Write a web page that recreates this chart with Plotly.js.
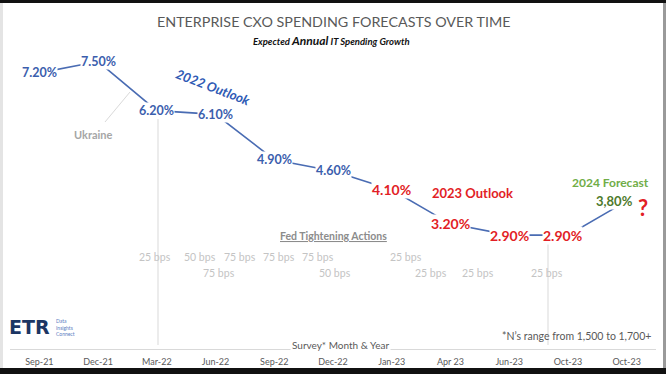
<!DOCTYPE html>
<html>
<head>
<meta charset="utf-8">
<script src="https://cdn.plot.ly/plotly-3.0.1.min.js"></script>
<style>
  html, body { margin: 0; padding: 0; background: #111; width: 666px; height: 374px; overflow: hidden; }
  #lstrip { position: absolute; left: 0; top: 3px; width: 3px; height: 365px; background: #e4e4e4; }
  #rstrip { position: absolute; left: 663px; top: 3px; width: 3px; height: 365px; background: #9a9a9a; }
  #chart { position: absolute; left: 3px; top: 3px; width: 660px; height: 365px; background: #fff; }
</style>
</head>
<body>
<div id="lstrip"></div>
<div id="rstrip"></div>
<div id="chart"></div>
<script>
// ---- data ----
const categories = ['Sep-21','Dec-21','Mar-22','Jun-22','Sep-22','Dec-22','Jan-23','Apr 23','Jun-23','Oct-23','Oct-23'];
const growth = [7.2, 7.5, 6.2, 6.1, 4.9, 4.6, 4.1, 3.2, 2.9, 2.9, 3.8];
const growthLabels = ['7.20%','7.50%','6.20%','6.10%','4.90%','4.60%','4.10%','3.20%','2.90%','2.90%','3,80%'];
const outlookYear = ['2022','2022','2022','2022','2022','2022','2023','2023','2023','2023','2024'];
const fedHikes = ['25 bps','50 bps','75 bps','75 bps','75 bps','75 bps','50 bps','25 bps','25 bps','25 bps','25 bps'];

// ---- layout helpers (page pixel -> paper coords) ----
const PL = 10, PR = 656, PT = 10, PB = 349;
const px = p => (p - PL) / (PR - PL);
const py = p => (PB - p) / (PB - PT);
const Y0 = -0.117, Y1 = 8.866;

const hikeX = [155, 200, 219, 240, 279, 318, 335, 406, 431, 478, 547];
const hikeRow = [1, 1, 2, 1, 1, 1, 2, 1, 2, 2, 2];

const colorFor = {'2022': '#3b5ead', '2023': '#e21e26', '2024': '#4e7a2c'};
const sizeFor = {'2022': 12.5, '2023': 14, '2024': 13};
const labelShift = [0,0,0,0,0,0,0,0,0,-5,-12];

const FONT = 'Lato, "Open Sans", sans-serif';

const annotations = [];
growth.forEach((v, i) => {
  annotations.push({
    x: i, y: v, xref: 'x', yref: 'y', text: '<b>' + growthLabels[i] + '</b>',
    xanchor: 'center', yanchor: 'middle',
    showarrow: false, bgcolor: 'rgba(255,255,255,1)', borderpad: 0, xshift: labelShift[i],
    font: {family: FONT, size: sizeFor[outlookYear[i]], color: colorFor[outlookYear[i]]}
  });
});

fedHikes.forEach((t, i) => {
  annotations.push({
    x: px(hikeX[i]), y: py(hikeRow[i] === 1 ? 257 : 273), xref: 'paper', yref: 'paper',
    xanchor: 'center', yanchor: 'middle',
    text: t, showarrow: false, font: {family: FONT, size: 10.5, color: '#c4c4c4'}
  });
});

const textAnn = (x, y, text, size, color, extra) => Object.assign({
  x: px(x), y: py(y), xref: 'paper', yref: 'paper', text: text, showarrow: false,
  xanchor: 'center', yanchor: 'middle',
  font: {family: FONT, size: size, color: color}
}, extra || {});

annotations.push(
  textAnn(333, 21, 'ENTERPRISE CXO SPENDING FORECASTS OVER TIME', 14.3, '#595959'),
  textAnn(331, 41, '<b><i>Expected <span style="font-size:12px">Annual</span> IT Spending Growth</i></b>', 9.5, '#111'),
  textAnn(213, 87, '<b><i>2022 Outlook</i></b>', 13, '#2f5bb5', {textangle: 21}),
  textAnn(93, 134, '<b>Ukraine</b>', 11, '#a6a6a6'),
  textAnn(472, 193, '<b>2023 Outlook</b>', 13, '#e21e26'),
  textAnn(610, 182, '<b>2024 Forecast</b>', 12, '#70ad47'),
  textAnn(643, 207, '<b>?</b>', 22, '#e21e26'),
  textAnn(333, 236, '<b><u>Fed Tightening Actions</u></b>', 10.5, '#8c8c8c'),
  textAnn(340, 345, 'Survey* Month &amp; Year', 10, '#595959', {bgcolor: '#fff', borderpad: 1}),
  textAnn(653, 336, '*N\u2019s range from 1,500 to 1,700+', 10.5, '#595959', {xanchor: 'right'}),
  Object.assign(textAnn(29, 327, '<b>ETR</b>', 19, '#1c3664'), {font: {family: '"DejaVu Sans"', size: 19, color: '#1c3664'}}),
  textAnn(54, 327, 'Data<br>Insights<br>Connect', 5, '#5b7ec2', {xanchor: 'left', align: 'left'})
);

const gray = {color: '#d9d9d9', width: 1};
const shapes = [
  {type: 'line', xref: 'paper', yref: 'paper', x0: px(158), x1: px(158), y0: py(119), y1: py(345), line: gray},
  {type: 'line', xref: 'paper', yref: 'paper', x0: px(548), x1: px(548), y0: py(237), y1: py(345), line: gray},
  {type: 'line', xref: 'paper', yref: 'paper', x0: px(105), x1: px(130), y0: py(122), y1: py(92), line: gray}
];

const trace = {
  x: categories.map((c, i) => i), y: growth, type: 'scatter', mode: 'lines',
  line: {color: '#4a6cb3', width: 1.6}, hoverinfo: 'skip', cliponaxis: false
};

const layout = {
  width: 660, height: 365,
  margin: {l: PL - 3, r: 663 - PR, t: PT - 3, b: 368 - PB},
  paper_bgcolor: '#fff', plot_bgcolor: '#fff',
  showlegend: false,
  xaxis: {
    range: [-0.5, 10.5], tickvals: categories.map((c, i) => i), ticktext: categories,
    showgrid: false, zeroline: false, showline: true, linecolor: '#d9d9d9', linewidth: 1,
    ticks: '', ticklabelstandoff: 4, tickfont: {family: FONT, size: 9, color: '#595959'}, fixedrange: true
  },
  yaxis: {range: [Y0, Y1], visible: false, fixedrange: true},
  annotations: annotations,
  shapes: shapes
};

Plotly.newPlot('chart', [trace], layout, {displayModeBar: false, staticPlot: true});
</script>
</body>
</html>
